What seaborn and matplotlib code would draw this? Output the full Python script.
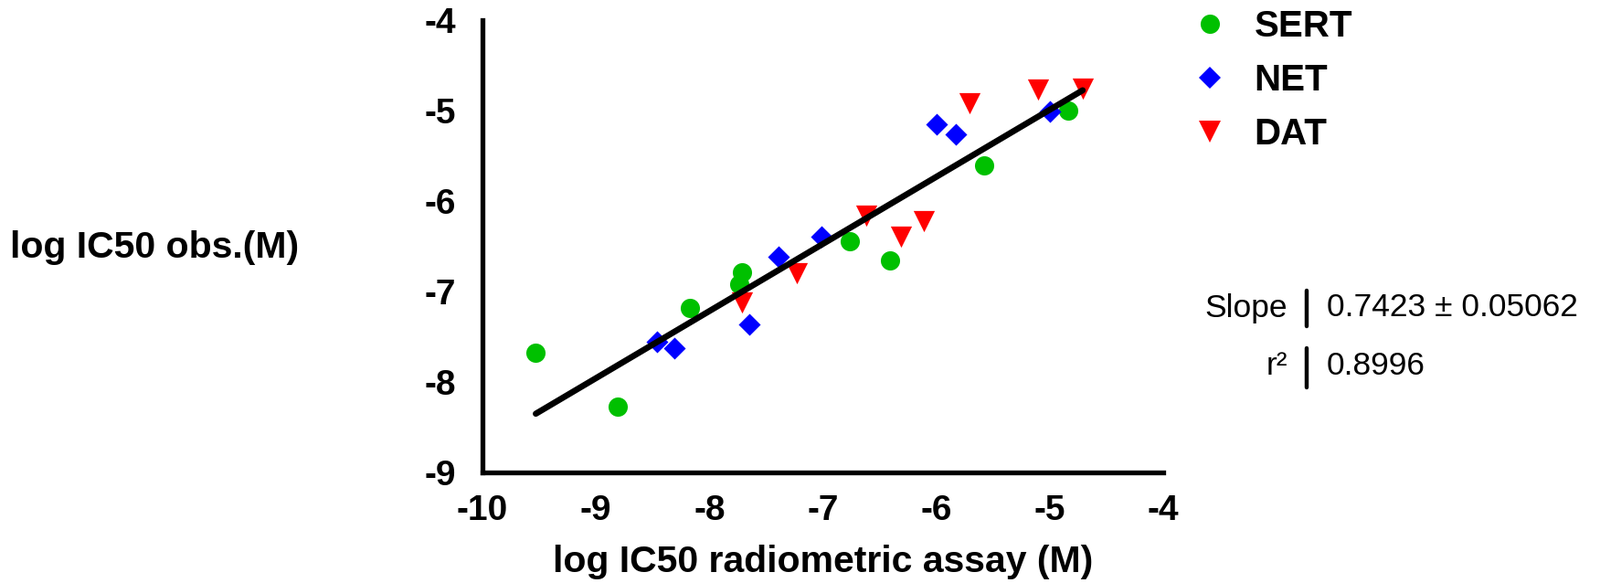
import numpy as np
import pandas as pd
import matplotlib
matplotlib.use("Agg")
import matplotlib.pyplot as plt
from matplotlib.lines import Line2D
import seaborn as sns

# ---- data ----
sert_x = [-9.53, -8.81, -8.17, -7.71, -7.74, -6.76, -6.41, -5.58, -4.84]
sert_y = [-7.68, -8.27, -7.18, -6.79, -6.92, -6.44, -6.66, -5.61, -5.00]
net_x = [-8.46, -8.31, -7.65, -7.39, -7.01, -6.00, -5.83, -5.00]
net_y = [-7.56, -7.63, -7.36, -6.62, -6.39, -5.15, -5.26, -5.01]
dat_x = [-7.71, -7.23, -6.62, -6.31, -6.11, -5.71, -5.10, -4.71]
dat_y = [-7.12, -6.80, -6.16, -6.39, -6.22, -4.92, -4.77, -4.76]
groups = ["SERT", "NET", "DAT"]
x_ticks = [-10, -9, -8, -7, -6, -5, -4]
y_ticks = [-9, -8, -7, -6, -5, -4]
stat_labels = ["Slope", "r\u00b2"]
stat_values = ["0.7423 \u00b1 0.05062", "0.8996"]

df = pd.DataFrame({
    "x": sert_x + net_x + dat_x,
    "y": sert_y + net_y + dat_y,
    "group": ["SERT"] * len(sert_x) + ["NET"] * len(net_x) + ["DAT"] * len(dat_x),
})

sns.set_theme(style="white")
plt.rcParams["font.family"] = ["Liberation Sans", "DejaVu Sans"]
plt.rcParams.update({"text.color": "black", "axes.labelcolor": "black",
                     "xtick.color": "black", "ytick.color": "black"})

fig = plt.figure(figsize=(17.51, 6.38), dpi=100)
ax = fig.add_axes([528 / 1751, 1 - 517 / 638, (1273 - 528) / 1751, (517 - 22) / 638])

palette = {"SERT": "#00c000", "NET": "#0000ff", "DAT": "#ff0000"}
markers = {"SERT": "o", "NET": "D", "DAT": "v"}
sizes = {"SERT": 230, "NET": 150, "DAT": 280}

for g in groups:
    sub = df[df["group"] == g]
    sns.scatterplot(data=sub, x="x", y="y", color=palette[g], marker=markers[g],
                    s=sizes[g], linewidth=0, ax=ax, legend=False, zorder=3)

sns.regplot(data=df, x="x", y="y", scatter=False, ci=None, truncate=True, ax=ax,
            line_kws={"color": "black", "lw": 4.8, "solid_capstyle": "round", "zorder": 4})

ax.set_xlim(-10, -4)
ax.set_ylim(-9, -4)
ax.set_xticks(x_ticks)
ax.set_yticks(y_ticks)
ax.set_xticklabels([str(t) for t in x_ticks], fontsize=28, fontweight="bold")
ax.set_yticklabels([str(t) for t in y_ticks], fontsize=28, fontweight="bold")
for side in ["top", "right"]:
    ax.spines[side].set_visible(False)
for side in ["left", "bottom"]:
    ax.spines[side].set_linewidth(3.8)
    ax.spines[side].set_color("black")
ax.tick_params(axis="both", direction="out", length=9, width=3.8, color="black")
ax.tick_params(axis="y", pad=12)
ax.tick_params(axis="x", pad=8)
ax.set_xlabel("log IC50 radiometric assay (M)", fontsize=29.5, fontweight="bold", labelpad=14)
ax.set_ylabel("")
ax.grid(False)

fig.text(11 / 1751, 1 - 271 / 638, "log IC50 obs.(M)", fontsize=29.5, fontweight="bold",
         ha="left", va="center")

handles = [Line2D([], [], linestyle="none", marker=markers[g], color=palette[g],
                  markersize=np.sqrt(sizes[g]), markeredgewidth=0) for g in groups]
leg = fig.legend(handles, groups, loc="upper left", bbox_to_anchor=(1280 / 1751, 1.022),
                 frameon=False, prop={"size": 29, "weight": "bold"},
                 handletextpad=0.7, labelspacing=0.52, handlelength=1.0, borderaxespad=0.2)

rows_y = [337, 400]
bars = [(318, 357), (381, 424)]
for lab, val, yc, (b0, b1) in zip(stat_labels, stat_values, rows_y, bars):
    fig.text(1409 / 1751, 1 - yc / 638, lab, fontsize=25.5, ha="right", va="center")
    fig.text(1452 / 1751, 1 - yc / 638, val, fontsize=25.5, ha="left", va="center")
    fig.add_artist(Line2D([1430 / 1751, 1430 / 1751], [1 - b0 / 638, 1 - b1 / 638],
                          color="black", lw=3.2, transform=fig.transFigure,
                          solid_capstyle="round"))

fig.savefig("out.png", dpi=100)
